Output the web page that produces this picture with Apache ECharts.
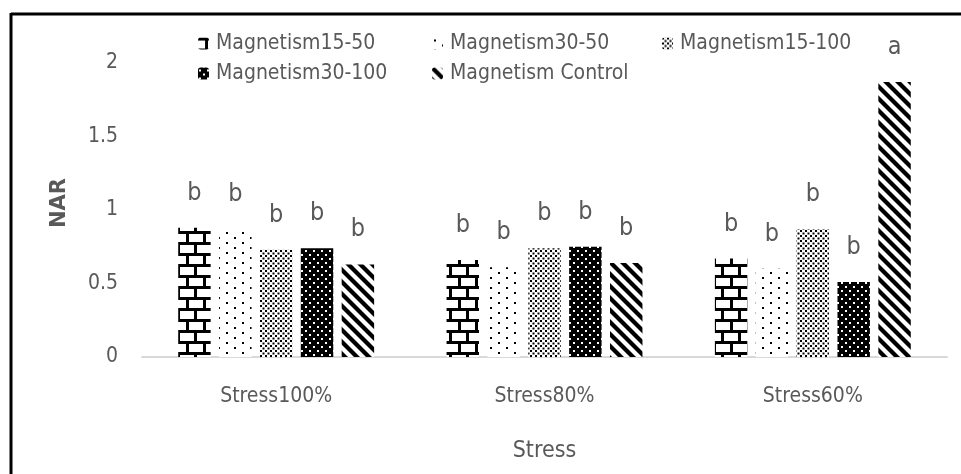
<!DOCTYPE html>
<html>
<head>
<meta charset="utf-8">
<script src="https://cdn.jsdelivr.net/npm/echarts@6/dist/echarts.min.js"></script>
<style>
html,body{margin:0;padding:0;background:#fff;}
#chart{width:961px;height:474px;}
</style>
</head>
<body>
<div id="chart"></div>
<script>
// ---- data ----
const categories = ['Stress100%', 'Stress80%', 'Stress60%'];
const seriesNames = ['Magnetism15-50', 'Magnetism30-50', 'Magnetism15-100', 'Magnetism30-100', 'Magnetism Control'];
const m15_50 = [0.88, 0.66, 0.67];
const m30_50 = [0.87, 0.61, 0.60];
const m15_100 = [0.73, 0.74, 0.87];
const m30_100 = [0.74, 0.75, 0.51];
const mControl = [0.63, 0.64, 1.87];
const letters15_50 = ['b', 'b', 'b'];
const letters30_50 = ['b', 'b', 'b'];
const letters15_100 = ['b', 'b', 'b'];
const letters30_100 = ['b', 'b', 'b'];
const lettersControl = ['b', 'b', 'a'];
const yTicks = [0, 0.5, 1, 1.5, 2];

// ---- patterns (style only) ----
function tile(w, h, bg, draw) {
  const c = document.createElement('canvas');
  c.width = w; c.height = h;
  const ctx = c.getContext('2d');
  ctx.fillStyle = bg; ctx.fillRect(0, 0, w, h);
  draw(ctx);
  return { image: c, repeat: 'repeat' };
}
const patBrick = tile(17, 22, '#fff', ctx => {
  ctx.fillStyle = '#000';
  ctx.fillRect(0, 0, 17, 3);
  ctx.fillRect(0, 11, 17, 3);
  ctx.fillRect(7, 3, 3, 8);
  ctx.fillRect(0, 14, 2, 8);
  ctx.fillRect(16, 14, 1, 8);
});
const patSparse = tile(16, 10, '#fff', ctx => {
  ctx.fillStyle = '#000';
  ctx.fillRect(2, 2, 2, 2);
  ctx.fillRect(10, 7, 2, 2);
});
const patDense = tile(5, 5, '#fff', ctx => {
  ctx.fillStyle = '#000';
  ctx.fillRect(0, 0, 2, 2);
  ctx.fillRect(2.5, 2.5, 2, 2);
});
const patDark = tile(8, 8, '#000', ctx => {
  ctx.fillStyle = '#fff';
  ctx.fillRect(1, 2, 2, 2);
  ctx.fillRect(5, 6, 2, 2);
});
const patStripe = tile(12, 12, '#fff', ctx => {
  ctx.strokeStyle = '#000';
  ctx.lineWidth = 4.2;
  [-12, 0, 12].forEach(x0 => {
    ctx.beginPath(); ctx.moveTo(x0 - 2, -2); ctx.lineTo(x0 + 14, 14); ctx.stroke();
  });
});

const FONT = "'DejaVu Sans Condensed', 'Liberation Sans', sans-serif";
const GREY = '#595959';

const values = [m15_50, m30_50, m15_100, m30_100, mControl];
const letters = [letters15_50, letters30_50, letters15_100, letters30_100, lettersControl];
const pats = [patBrick, patSparse, patDense, patDark, patStripe];

const series = seriesNames.map((name, i) => ({
  name: name,
  type: 'bar',
  barGap: '26%',
  barCategoryGap: '27%',
  itemStyle: { color: pats[i] },
  label: {
    show: true,
    position: 'top',
    distance: 22,
    fontFamily: FONT,
    fontSize: 25,
    color: GREY,
    formatter: p => letters[i][p.dataIndex]
  },
  data: values[i]
}));

const legendPos = [
  [198, 33], [432, 33], [662, 33],
  [198, 63], [432, 63]
];
const legends = seriesNames.map((n, i) => ({
  data: [n],
  left: legendPos[i][0],
  top: legendPos[i][1],
  itemWidth: 11,
  itemHeight: 12,
  padding: 0,
  selectedMode: false,
  textStyle: { fontFamily: FONT, fontSize: 21, color: GREY, padding: [0, 0, 0, 2] }
}));

const chart = echarts.init(document.getElementById('chart'), null, { renderer: 'canvas' });
chart.setOption({
  backgroundColor: '#fff',
  animation: false,
  legend: legends,
  grid: { left: 142, right: 14, top: 63, bottom: 117 },
  xAxis: {
    type: 'category',
    data: categories,
    axisLine: { lineStyle: { color: '#d9d9d9', width: 2 } },
    axisTick: { show: false },
    axisLabel: { fontFamily: FONT, fontSize: 21, color: GREY, margin: 29 },
    name: 'Stress',
    nameLocation: 'middle',
    nameGap: 83,
    nameTextStyle: { fontFamily: FONT, fontSize: 23, color: GREY }
  },
  yAxis: {
    type: 'value',
    min: 0, max: 2, interval: 0.5,
    splitLine: { show: false },
    axisLine: { show: false },
    axisTick: { show: false },
    axisLabel: { fontFamily: FONT, fontSize: 21, color: GREY, margin: 24,
      formatter: v => yTicks.indexOf(v) >= 0 ? String(v) : '' },
    name: 'NAR',
    nameLocation: 'middle',
    nameGap: 72,
    nameRotate: 90,
    nameTextStyle: { fontFamily: "'DejaVu Sans', sans-serif", fontSize: 21, fontWeight: 'bold', color: GREY, padding: [0, 0, 0, 14] }
  },
  graphic: [
    { type: 'line', shape: { x1: 11, y1: 14, x2: 961, y2: 14 }, style: { stroke: '#000', lineWidth: 3 } },
    { type: 'line', shape: { x1: 11, y1: 13, x2: 11, y2: 474 }, style: { stroke: '#000', lineWidth: 3 } }
  ],
  series: series
});
</script>
</body>
</html>
